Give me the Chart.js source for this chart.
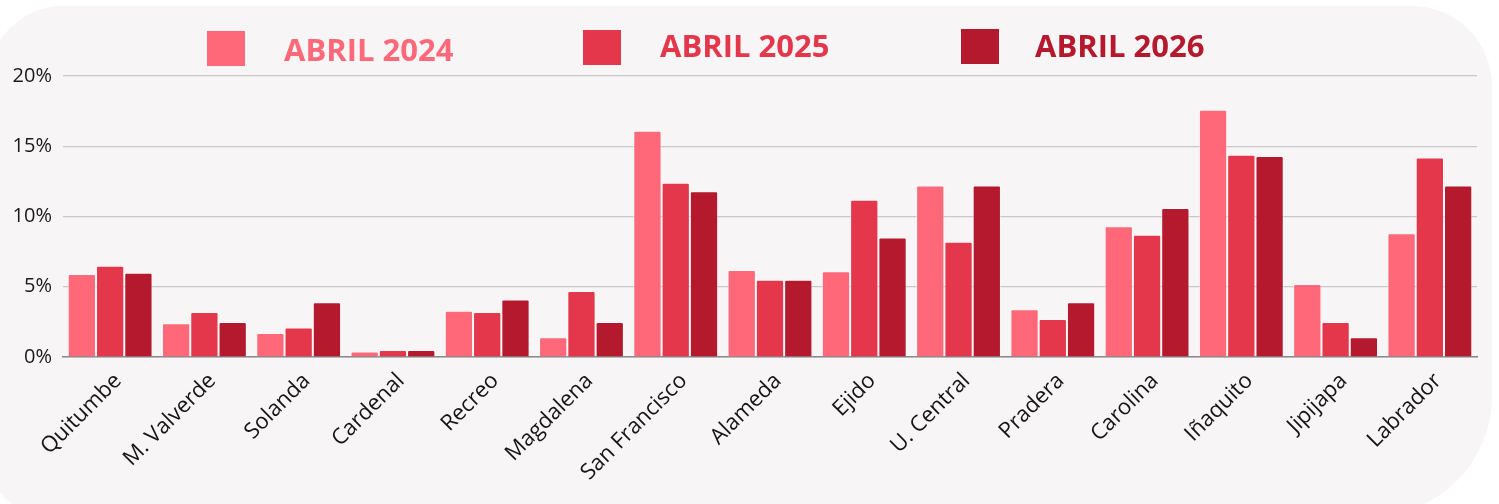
<!DOCTYPE html>
<html>
<head>
<meta charset="utf-8">
<script src="https://cdn.jsdelivr.net/npm/chart.js@4"></script>
<style>
    html, body { margin: 0; padding: 0; background: #ffffff; width: 1499px; height: 504px; overflow: hidden; }
    .card {
        position: absolute; left: -12px; top: 6px; width: 1504px; height: 510px;
        background: #f7f5f6;
        border-radius: 75px 80px 120px 60px;
    }
    #wrap { position: absolute; left: 0; top: 0; width: 1499px; height: 504px; }
    .leg { position: absolute; font-family: "Open Sans", sans-serif; font-weight: 700; font-size: 31px; line-height: 1; white-space: nowrap; }
    .box { position: absolute; width: 38px; height: 35px; }
</style>
</head>
<body>
<div class="card"></div>
<div id="wrap"><canvas id="chart" width="1499" height="504"></canvas></div>
<div id="legend"></div>
<script>
// Données (en %)
const barrios = ['Quitumbe', 'M. Valverde', 'Solanda', 'Cardenal', 'Recreo', 'Magdalena', 'San Francisco',
    'Alameda', 'Ejido', 'U. Central', 'Pradera', 'Carolina', 'Iñaquito', 'Jipijapa', 'Labrador'];
const abril2024 = [5.9, 2.4, 1.7, 0.4, 3.3, 1.4, 16.1, 6.2, 6.1, 12.2, 3.4, 9.3, 17.6, 5.2, 8.8];
const abril2025 = [6.5, 3.2, 2.1, 0.5, 3.2, 4.7, 12.4, 5.5, 11.2, 8.2, 2.7, 8.7, 14.4, 2.5, 14.2];
const abril2026 = [6.0, 2.5, 3.9, 0.5, 4.1, 2.5, 11.8, 5.5, 8.5, 12.2, 3.9, 10.6, 14.3, 1.4, 12.2];
const seriesNames = ['ABRIL 2024', 'ABRIL 2025', 'ABRIL 2026'];
const yTicks = [0, 5, 10, 15, 20];

const colors = ['#ff6879', '#e5374b', '#b5192d'];

// Légende HTML
const legendPos = [
    { box: [207, 31], text: [284, 34] },
    { box: [583, 30], text: [660, 30] },
    { box: [961, 29], text: [1035, 30] }
];
const legend = document.getElementById('legend');
seriesNames.forEach((name, i) => {
    const b = document.createElement('div');
    b.className = 'box';
    b.style.left = legendPos[i].box[0] + 'px';
    b.style.top = legendPos[i].box[1] + 'px';
    b.style.background = colors[i];
    legend.appendChild(b);
    const t = document.createElement('div');
    t.className = 'leg';
    t.style.left = legendPos[i].text[0] + 'px';
    t.style.top = legendPos[i].text[1] + 'px';
    t.style.color = colors[i];
    t.textContent = name;
    legend.appendChild(t);
});

const allSeries = [abril2024, abril2025, abril2026];
const ctx = document.getElementById('chart').getContext('2d');
new Chart(ctx, {
    type: 'bar',
    data: {
        labels: barrios,
        datasets: allSeries.map((data, i) => ({
            label: seriesNames[i],
            data: data,
            backgroundColor: colors[i],
            borderColor: 'rgba(255, 255, 255, 0.55)',
            borderWidth: 1,
            borderRadius: 2,
            borderSkipped: 'bottom',
            categoryPercentage: 0.9,
            barPercentage: 1.0
        }))
    },
    options: {
        responsive: false,
        animation: false,
        layout: { padding: { top: 76, right: 22, left: 0, bottom: 0 } },
        plugins: {
            legend: { display: false },
            tooltip: { enabled: false }
        },
        scales: {
            x: {
                grid: { display: false, drawTicks: false },
                border: { display: true, color: '#8a8889', width: 1.5 },
                ticks: {
                    minRotation: 45,
                    maxRotation: 45,
                    padding: 11,
                    labelOffset: 8,
                    color: '#151515',
                    font: { family: 'Open Sans', size: 22 }
                },
                afterFit: (scale) => { scale.height = 147; }
            },
            y: {
                min: 0,
                max: 20,
                afterBuildTicks: (scale) => { scale.ticks = yTicks.map(v => ({ value: v })); },
                grid: { color: '#c9c7c8', lineWidth: 1.2, drawTicks: false },
                border: { display: false },
                ticks: {
                    padding: 11,
                    color: '#1a1a1a',
                    font: { family: 'Open Sans', size: 20 },
                    callback: (v) => v + '%'
                },
                afterFit: (scale) => { scale.width = 63; }
            }
        }
    }
});
</script>
</body>
</html>
